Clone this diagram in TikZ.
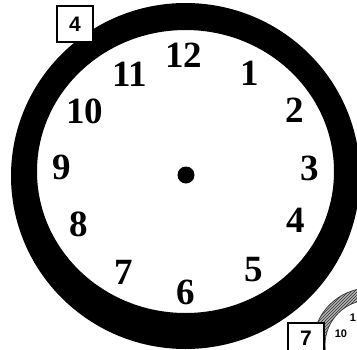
\documentclass[tikz,border=0pt]{standalone}
\usepackage{fontspec}
\setmainfont{Liberation Serif}
\newfontfamily\tagfont{Liberation Sans}
\usetikzlibrary{patterns}

\begin{document}
\begin{tikzpicture}[x=1pt, y=-1pt,
    numeral/.style={font=\fontsize{37}{37}\selectfont\bfseries,
                    inner sep=0pt},
    tag/.style={draw, line width=2pt, fill=white, inner sep=0pt,
                minimum size=36pt,
                font=\tagfont\fontsize{21}{21}\selectfont\bfseries},
    small/.style={font=\tagfont\fontsize{11}{11}\selectfont\bfseries,
                  inner sep=0pt},
    hub/.style={circle, fill=black, inner sep=0pt, minimum size=17pt}]
  \useasboundingbox (0,0) rectangle (357,349);
  \clip (0,0) rectangle (357,349);
  \fill[white] (0,0) rectangle (357,349);
  % second clock, bottom right
  \path[fill=gray!60, even odd rule,
        postaction={pattern=north east lines, pattern color=black!80}]
    (370,345) circle[radius=57pt] circle[radius=45pt];
  \draw[black!75, line width=0.8pt] (370,345) circle[radius=57pt]
    (370,345) circle[radius=45pt];
  % clock face ring
  \fill[black, even odd rule]
    (185.5,176) ellipse [x radius=174.5pt, y radius=173pt]
    (185.5,171.5) ellipse [x radius=148.5pt, y radius=141.5pt];
  \node[hub] (mid) at (186,175) {};
  % numerals
  \node[numeral] (n12) at (183.5,55.5) {12};
  \node[numeral] (n1)  at (249.5,73.5) {1};
  \node[numeral] (n2)  at (295,110)    {2};
  \node[numeral] (n3)  at (310,168.5)  {3};
  \node[numeral] (n4)  at (296,220)    {4};
  \node[numeral] (n5)  at (254,270)    {5};
  \node[numeral] (n6)  at (186,292)    {6};
  \node[numeral] (n7)  at (124,272.5)  {7};
  \node[numeral] (n8)  at (79,224.5)   {8};
  \node[numeral] (n9)  at (62,167.5)   {9};
  \node[numeral] (n10) at (85,111.5)   {10};
  \node[numeral] (n11) at (130,74.5)   {11};
  % exercise tags
  \node[tag] (t4) at (75,24)  {4};
  \node[tag, text depth=6pt] (t7) at (306,341) {7};
  \node[small] (s10) at (341,334) {10};
  \node[small] (s11) at (353,318) {1};
\end{tikzpicture}
\end{document}
